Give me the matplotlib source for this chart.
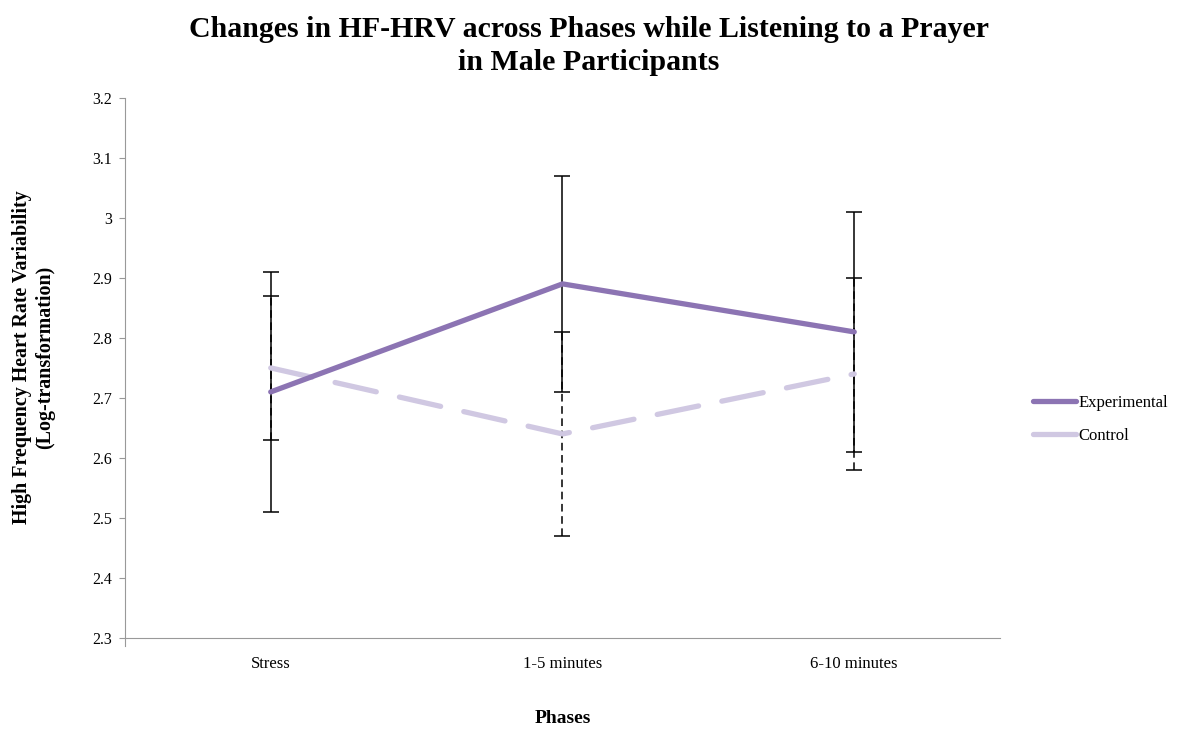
import matplotlib
matplotlib.use("Agg")
import matplotlib.pyplot as plt

# data
phases = ["Stress", "1-5 minutes", "6-10 minutes"]
experimental = [2.71, 2.89, 2.81]
experimental_err = [0.20, 0.18, 0.20]
control = [2.75, 2.64, 2.74]
control_err = [0.12, 0.17, 0.16]
y_ticks = [2.3, 2.4, 2.5, 2.6, 2.7, 2.8, 2.9, 3.0, 3.1, 3.2]
y_tick_labels = ["2.3", "2.4", "2.5", "2.6", "2.7", "2.8", "2.9", "3", "3.1", "3.2"]

plt.rcParams["font.family"] = ["Liberation Serif", "DejaVu Serif"]

fig = plt.figure(figsize=(11.78, 7.3), dpi=100)
ax = fig.add_axes([0.106, 0.126, 0.743, 0.740])

x = list(range(len(phases)))
exp_color = "#8c74b3"
ctl_color = "#d0c8e2"

# control error bars (dashed) underneath the experimental ones
eb = ax.errorbar(x, control, yerr=control_err, fmt="none", ecolor="black",
                 elinewidth=1.1, capsize=6, capthick=1.1, zorder=2)
eb[2][0].set_linestyle((0, (5, 3)))
ax.errorbar(x, experimental, yerr=experimental_err, fmt="none", ecolor="black",
            elinewidth=1.1, capsize=6, capthick=1.1, zorder=3)

ax.plot(x, control, color=ctl_color, lw=3.8, dashes=(8, 4.5),
        solid_capstyle="round", dash_capstyle="round", label="Control", zorder=4)
ax.plot(x, experimental, color=exp_color, lw=3.8, solid_capstyle="round",
        label="Experimental", zorder=5)

ax.set_xlim(-0.5, 2.5)
ax.set_ylim(2.3, 3.2)
ax.set_xticks(x)
ax.set_xticklabels(phases, fontsize=12)
ax.tick_params(axis="x", length=0, pad=13)
ax.set_yticks(y_ticks)
ax.set_yticklabels(y_tick_labels, fontsize=11.5)
ax.tick_params(axis="y", length=4, color="#999999", pad=5)

for side in ["top", "right"]:
    ax.spines[side].set_visible(False)
ax.spines["left"].set_color("#999999")
ax.spines["bottom"].set_color("#999999")
ax.spines["left"].set_bounds(2.287, 3.2)

ax.set_xlabel("Phases", fontsize=14, fontweight="bold", labelpad=27)
ax.set_ylabel("High Frequency Heart Rate Variability\n(Log-transformation)",
              fontsize=14.4, fontweight="bold", linespacing=1.2)
ax.yaxis.set_label_coords(-0.08, 0.52)
fig.suptitle("Changes in HF-HRV across Phases while Listening to a Prayer\nin Male Participants",
             fontsize=21.5, fontweight="bold", y=0.978, linespacing=1.3)

handles, labels = ax.get_legend_handles_labels()
leg = ax.legend(handles[::-1], labels[::-1], loc="center left",
                bbox_to_anchor=(1.02, 0.405), frameon=False, fontsize=12,
                handlelength=2.6, handletextpad=0.15, labelspacing=1.0)
for line in leg.get_lines():
    line.set_linestyle("-")

fig.savefig("out.png", dpi=100)
